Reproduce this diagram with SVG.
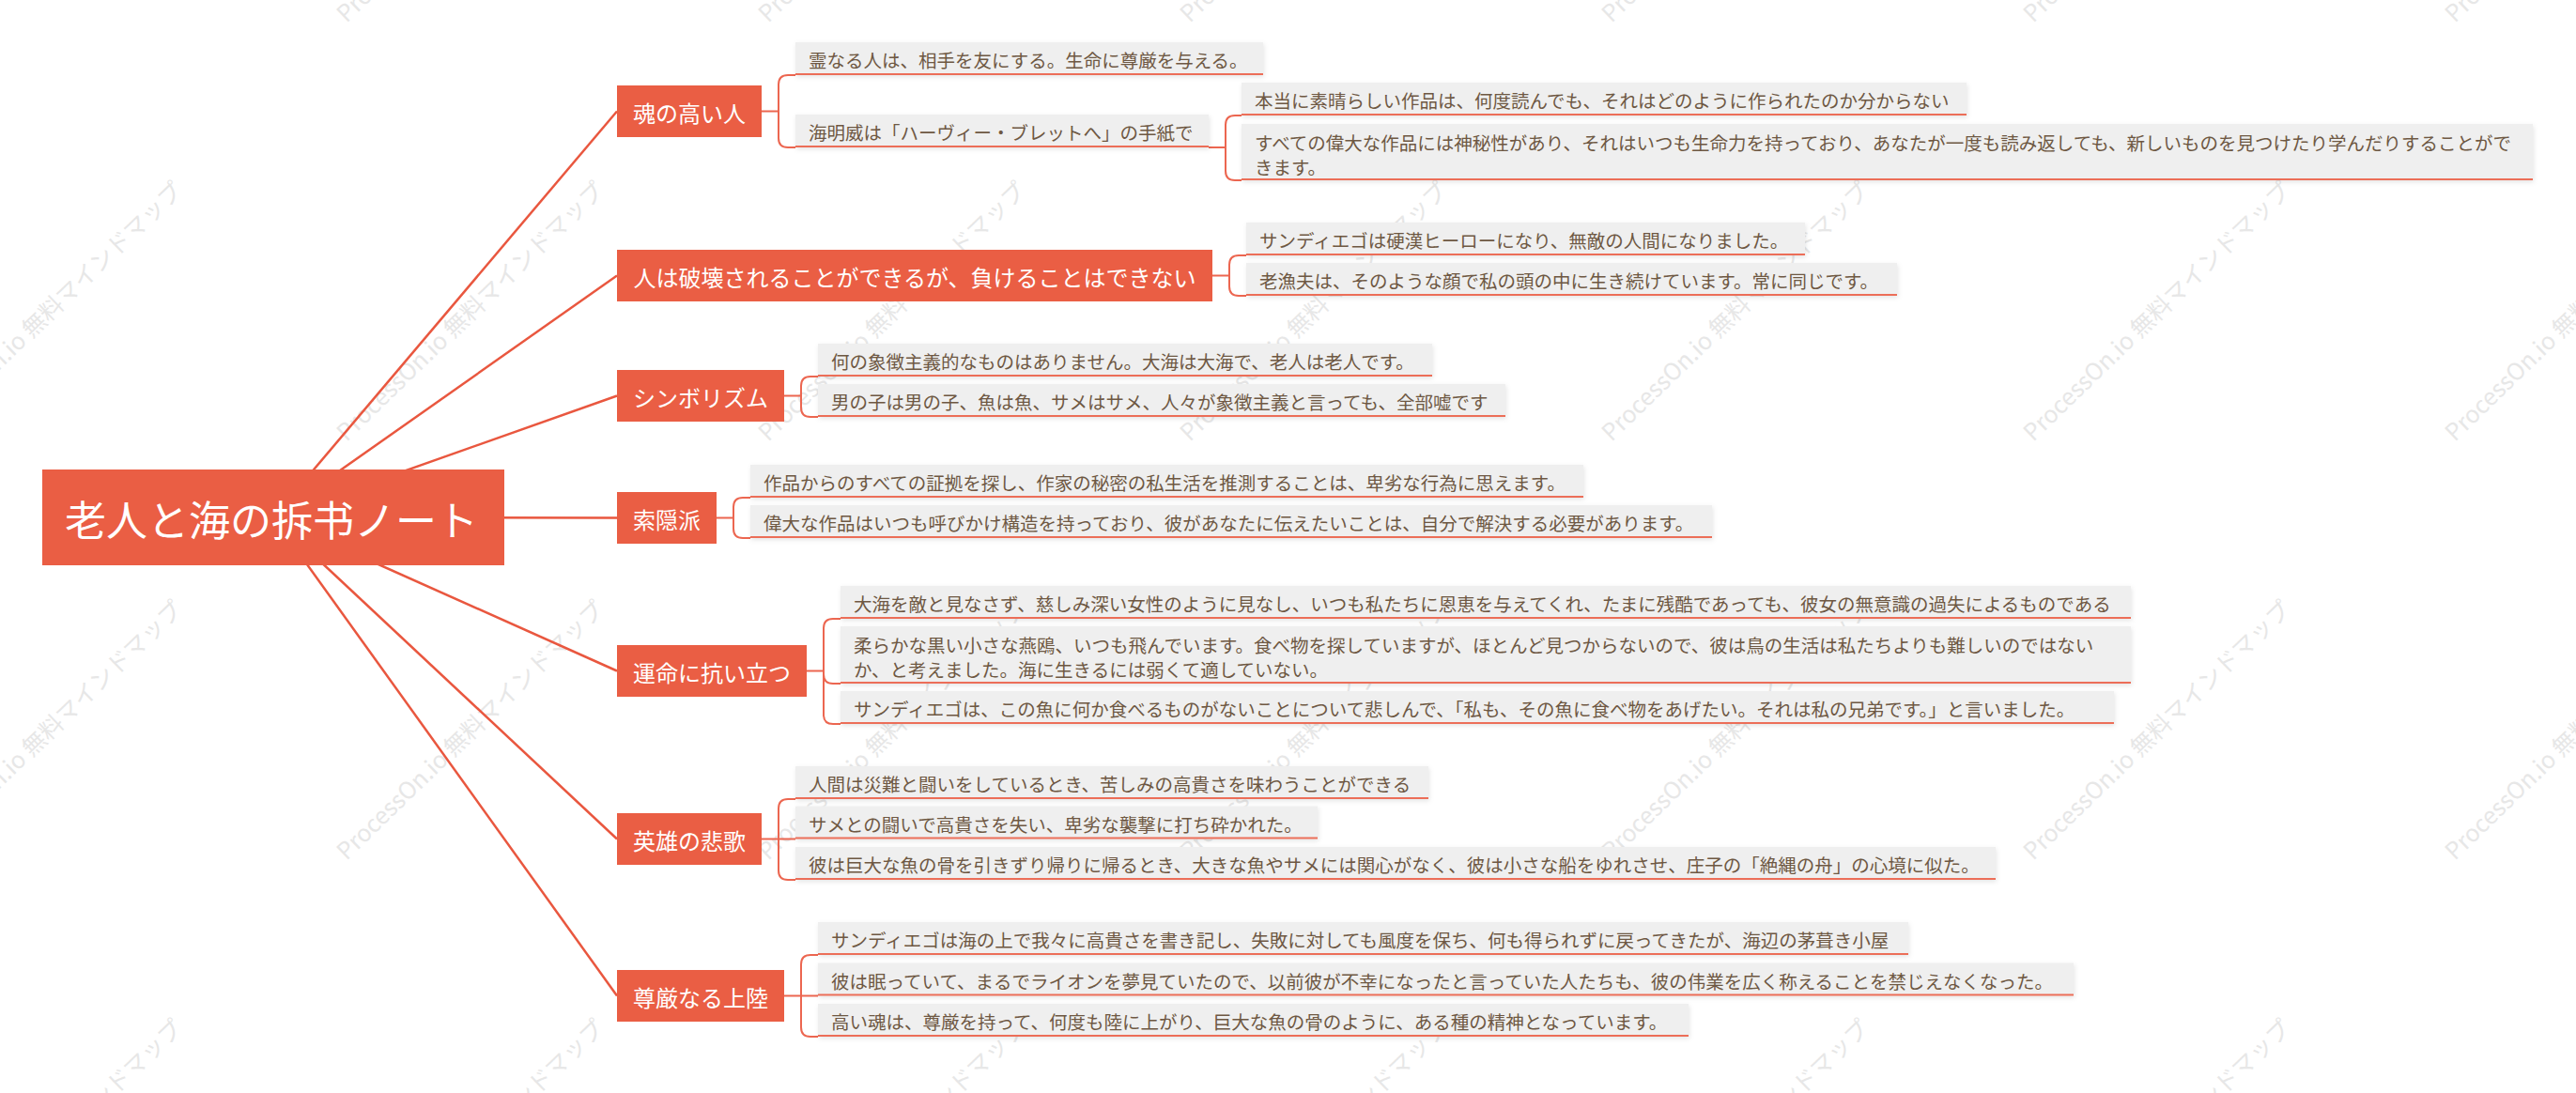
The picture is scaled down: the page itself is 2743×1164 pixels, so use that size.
<svg xmlns="http://www.w3.org/2000/svg" width="2743" height="1164" viewBox="0 0 2743 1164">
<style>
text { font-family: "Noto Sans CJK JP", "Noto Sans", sans-serif; }
.bg { fill: #FFFFFF; }
.wm { fill: #E7E7E7; font-size: 25px; }
.root { fill: #EA5E44; }
.roott { fill: #FFFFFF; font-size: 44px; text-anchor: middle; dominant-baseline: central; }
.l1 { fill: #EA5E44; }
.l1t { fill: #FFFFFF; font-size: 24px; text-anchor: middle; dominant-baseline: central; }
.l2 { fill: #EFEFEF; filter: url(#sh); }
.ul { stroke: #EC6E58; stroke-width: 2; fill: none; }
.l2t { fill: #6E5843; font-size: 19.5px; dominant-baseline: central; }
.conn { stroke: #E9573F; stroke-width: 2.5; fill: none; }
.br { stroke: #EC6650; stroke-width: 2; fill: none; }
</style>
<defs>
<filter id="sh" x="-5%" y="-30%" width="110%" height="170%">
<feDropShadow dx="1" dy="2" stdDeviation="2.5" flood-color="#000000" flood-opacity="0.10"/>
</filter>
</defs>
<rect class="bg" x="0" y="0" width="2743" height="1164"/>
<g id="watermarks">
<text class="wm" transform="translate(-80,25) rotate(-44)">ProcessOn.io 無料マインドマップ</text>
<text class="wm" transform="translate(369,25) rotate(-44)">ProcessOn.io 無料マインドマップ</text>
<text class="wm" transform="translate(818,25) rotate(-44)">ProcessOn.io 無料マインドマップ</text>
<text class="wm" transform="translate(1267,25) rotate(-44)">ProcessOn.io 無料マインドマップ</text>
<text class="wm" transform="translate(1716,25) rotate(-44)">ProcessOn.io 無料マインドマップ</text>
<text class="wm" transform="translate(2165,25) rotate(-44)">ProcessOn.io 無料マインドマップ</text>
<text class="wm" transform="translate(2614,25) rotate(-44)">ProcessOn.io 無料マインドマップ</text>
<text class="wm" transform="translate(-80,471) rotate(-44)">ProcessOn.io 無料マインドマップ</text>
<text class="wm" transform="translate(369,471) rotate(-44)">ProcessOn.io 無料マインドマップ</text>
<text class="wm" transform="translate(818,471) rotate(-44)">ProcessOn.io 無料マインドマップ</text>
<text class="wm" transform="translate(1267,471) rotate(-44)">ProcessOn.io 無料マインドマップ</text>
<text class="wm" transform="translate(1716,471) rotate(-44)">ProcessOn.io 無料マインドマップ</text>
<text class="wm" transform="translate(2165,471) rotate(-44)">ProcessOn.io 無料マインドマップ</text>
<text class="wm" transform="translate(2614,471) rotate(-44)">ProcessOn.io 無料マインドマップ</text>
<text class="wm" transform="translate(-80,917) rotate(-44)">ProcessOn.io 無料マインドマップ</text>
<text class="wm" transform="translate(369,917) rotate(-44)">ProcessOn.io 無料マインドマップ</text>
<text class="wm" transform="translate(818,917) rotate(-44)">ProcessOn.io 無料マインドマップ</text>
<text class="wm" transform="translate(1267,917) rotate(-44)">ProcessOn.io 無料マインドマップ</text>
<text class="wm" transform="translate(1716,917) rotate(-44)">ProcessOn.io 無料マインドマップ</text>
<text class="wm" transform="translate(2165,917) rotate(-44)">ProcessOn.io 無料マインドマップ</text>
<text class="wm" transform="translate(2614,917) rotate(-44)">ProcessOn.io 無料マインドマップ</text>
<text class="wm" transform="translate(-80,1363) rotate(-44)">ProcessOn.io 無料マインドマップ</text>
<text class="wm" transform="translate(369,1363) rotate(-44)">ProcessOn.io 無料マインドマップ</text>
<text class="wm" transform="translate(818,1363) rotate(-44)">ProcessOn.io 無料マインドマップ</text>
<text class="wm" transform="translate(1267,1363) rotate(-44)">ProcessOn.io 無料マインドマップ</text>
<text class="wm" transform="translate(1716,1363) rotate(-44)">ProcessOn.io 無料マインドマップ</text>
<text class="wm" transform="translate(2165,1363) rotate(-44)">ProcessOn.io 無料マインドマップ</text>
<text class="wm" transform="translate(2614,1363) rotate(-44)">ProcessOn.io 無料マインドマップ</text>
</g>
<g id="connectors">
<path class="conn" d="M291,551 L657,118.5"/>
<path class="conn" d="M291,551 L657,293.5"/>
<path class="conn" d="M291,551 L657,421.5"/>
<path class="conn" d="M291,551 L657,551.5"/>
<path class="conn" d="M291,551 L657,714.5"/>
<path class="conn" d="M291,551 L657,893.5"/>
<path class="conn" d="M291,551 L657,1060.5"/>
<path class="br" d="M811,118.5 H829 V90 Q829,80 839,80 H847"/>
<path class="br" d="M829,118.5 V147 Q829,157 839,157 H847"/>
<path class="br" d="M1287,157 H1305 V133 Q1305,123 1315,123 H1322"/>
<path class="br" d="M1305,157 V182 Q1305,192 1315,192 H1322"/>
<path class="br" d="M1291,293.5 H1309 V282 Q1309,272 1319,272 H1327"/>
<path class="br" d="M1309,293.5 V305 Q1309,315 1319,315 H1327"/>
<path class="br" d="M835,421.5 H853 V411 Q853,401 863,401 H871"/>
<path class="br" d="M853,421.5 V434 Q853,444 863,444 H871"/>
<path class="br" d="M763,551.5 H781 V540 Q781,530 791,530 H799"/>
<path class="br" d="M781,551.5 V563 Q781,573 791,573 H799"/>
<path class="br" d="M859,714.5 H877 V669 Q877,659 887,659 H895"/>
<path class="br" d="M877,714.5 V718 Q877,728 887,728 H895"/>
<path class="br" d="M877,714.5 V761 Q877,771 887,771 H895"/>
<path class="br" d="M811,893.5 H847"/>
<path class="br" d="M829,893.5 V861 Q829,851 839,851 H847"/>
<path class="br" d="M829,893.5 V927 Q829,937 839,937 H847"/>
<path class="br" d="M835,1060.5 H871"/>
<path class="br" d="M853,1060.5 V1027 Q853,1017 863,1017 H871"/>
<path class="br" d="M853,1060.5 V1094 Q853,1104 863,1104 H871"/>
</g>
<g id="root">
<rect class="root" x="45" y="500" width="492" height="102"/>
<text class="roott" x="289" y="552">老人と海の拆书ノート</text>
</g>
<g id="n1">
<rect class="l1" x="657" y="91" width="154" height="55"/>
<text class="l1t" x="734" y="119.5">魂の高い人</text>
</g>
<g id="n2">
<rect class="l1" x="657" y="266" width="634" height="55"/>
<text class="l1t" x="974" y="294.5">人は破壊されることができるが、負けることはできない</text>
</g>
<g id="n3">
<rect class="l1" x="657" y="394" width="178" height="55"/>
<text class="l1t" x="746" y="422.5">シンボリズム</text>
</g>
<g id="n4">
<rect class="l1" x="657" y="524" width="106" height="55"/>
<text class="l1t" x="710" y="552.5">索隠派</text>
</g>
<g id="n5">
<rect class="l1" x="657" y="687" width="202" height="55"/>
<text class="l1t" x="758" y="715.5">運命に抗い立つ</text>
</g>
<g id="n6">
<rect class="l1" x="657" y="866" width="154" height="55"/>
<text class="l1t" x="734" y="894.5">英雄の悲歌</text>
</g>
<g id="n7">
<rect class="l1" x="657" y="1033" width="178" height="55"/>
<text class="l1t" x="746" y="1061.5">尊厳なる上陸</text>
</g>
<g id="n1a">
<rect class="l2" x="847" y="45" width="498" height="35"/>
<path class="ul" d="M847,79 H1345"/>
<text class="l2t" x="861" y="63.5">霊なる人は、相手を友にする。生命に尊厳を与える。</text>
</g>
<g id="n1b">
<rect class="l2" x="847" y="122" width="440" height="35"/>
<path class="ul" d="M847,156 H1287"/>
<text class="l2t" x="861" y="140.5">海明威は「ハーヴィー・ブレットへ」の手紙で</text>
</g>
<g id="n1b1">
<rect class="l2" x="1322" y="88" width="772" height="35"/>
<path class="ul" d="M1322,122 H2094"/>
<text class="l2t" x="1336" y="106.5">本当に素晴らしい作品は、何度読んでも、それはどのように作られたのか分からない</text>
</g>
<g id="n1b2">
<rect class="l2" x="1322" y="132" width="1375" height="60"/>
<path class="ul" d="M1322,191 H2697"/>
<text class="l2t" x="1336" y="151.5">すべての偉大な作品には神秘性があり、それはいつも生命力を持っており、あなたが一度も読み返しても、新しいものを見つけたり学んだりすることがで</text>
<text class="l2t" x="1336" y="177.5">きます。</text>
</g>
<g id="n2a">
<rect class="l2" x="1327" y="237" width="595" height="35"/>
<path class="ul" d="M1327,271 H1922"/>
<text class="l2t" x="1341" y="255.5">サンディエゴは硬漢ヒーローになり、無敵の人間になりました。</text>
</g>
<g id="n2b">
<rect class="l2" x="1327" y="280" width="693" height="35"/>
<path class="ul" d="M1327,314 H2020"/>
<text class="l2t" x="1341" y="298.5">老漁夫は、そのような顔で私の頭の中に生き続けています。常に同じです。</text>
</g>
<g id="n3a">
<rect class="l2" x="871" y="366" width="654" height="35"/>
<path class="ul" d="M871,400 H1525"/>
<text class="l2t" x="885" y="384.5">何の象徴主義的なものはありません。大海は大海で、老人は老人です。</text>
</g>
<g id="n3b">
<rect class="l2" x="871" y="409" width="732" height="35"/>
<path class="ul" d="M871,443 H1603"/>
<text class="l2t" x="885" y="427.5">男の子は男の子、魚は魚、サメはサメ、人々が象徴主義と言っても、全部嘘です</text>
</g>
<g id="n4a">
<rect class="l2" x="799" y="495" width="887" height="35"/>
<path class="ul" d="M799,529 H1686"/>
<text class="l2t" x="813" y="513.5">作品からのすべての証拠を探し、作家の秘密の私生活を推測することは、卑劣な行為に思えます。</text>
</g>
<g id="n4b">
<rect class="l2" x="799" y="538" width="1024" height="35"/>
<path class="ul" d="M799,572 H1823"/>
<text class="l2t" x="813" y="556.5">偉大な作品はいつも呼びかけ構造を持っており、彼があなたに伝えたいことは、自分で解決する必要があります。</text>
</g>
<g id="n5a">
<rect class="l2" x="895" y="624" width="1374" height="35"/>
<path class="ul" d="M895,658 H2269"/>
<text class="l2t" x="909" y="642.5">大海を敵と見なさず、慈しみ深い女性のように見なし、いつも私たちに恩恵を与えてくれ、たまに残酷であっても、彼女の無意識の過失によるものである</text>
</g>
<g id="n5b">
<rect class="l2" x="895" y="667" width="1374" height="61"/>
<path class="ul" d="M895,727 H2269"/>
<text class="l2t" x="909" y="686.5">柔らかな黒い小さな燕鴎、いつも飛んでいます。食べ物を探していますが、ほとんど見つからないので、彼は鳥の生活は私たちよりも難しいのではない</text>
<text class="l2t" x="909" y="712">か、と考えました。海に生きるには弱くて適していない。</text>
</g>
<g id="n5c">
<rect class="l2" x="895" y="736" width="1356" height="35"/>
<path class="ul" d="M895,770 H2251"/>
<text class="l2t" x="909" y="754.5">サンディエゴは、この魚に何か食べるものがないことについて悲しんで、「私も、その魚に食べ物をあげたい。それは私の兄弟です。」と言いました。</text>
</g>
<g id="n6a">
<rect class="l2" x="847" y="816" width="674" height="35"/>
<path class="ul" d="M847,850 H1521"/>
<text class="l2t" x="861" y="834.5">人間は災難と闘いをしているとき、苦しみの高貴さを味わうことができる</text>
</g>
<g id="n6b">
<rect class="l2" x="847" y="858.5" width="556" height="35"/>
<path class="ul" d="M847,892.5 H1403"/>
<text class="l2t" x="861" y="877">サメとの闘いで高貴さを失い、卑劣な襲撃に打ち砕かれた。</text>
</g>
<g id="n6c">
<rect class="l2" x="847" y="902" width="1278" height="35"/>
<path class="ul" d="M847,936 H2125"/>
<text class="l2t" x="861" y="920.5">彼は巨大な魚の骨を引きずり帰りに帰るとき、大きな魚やサメには関心がなく、彼は小さな船をゆれさせ、庄子の「絶縄の舟」の心境に似た。</text>
</g>
<g id="n7a">
<rect class="l2" x="871" y="982" width="1161" height="35"/>
<path class="ul" d="M871,1016 H2032"/>
<text class="l2t" x="885" y="1000.5">サンディエゴは海の上で我々に高貴さを書き記し、失敗に対しても風度を保ち、何も得られずに戻ってきたが、海辺の茅葺き小屋</text>
</g>
<g id="n7b">
<rect class="l2" x="871" y="1025.5" width="1337" height="35"/>
<path class="ul" d="M871,1059.5 H2208"/>
<text class="l2t" x="885" y="1044">彼は眠っていて、まるでライオンを夢見ていたので、以前彼が不幸になったと言っていた人たちも、彼の伟業を広く称えることを禁じえなくなった。</text>
</g>
<g id="n7c">
<rect class="l2" x="871" y="1069" width="927" height="35"/>
<path class="ul" d="M871,1103 H1798"/>
<text class="l2t" x="885" y="1087.5">高い魂は、尊厳を持って、何度も陸に上がり、巨大な魚の骨のように、ある種の精神となっています。</text>
</g>
</svg>
